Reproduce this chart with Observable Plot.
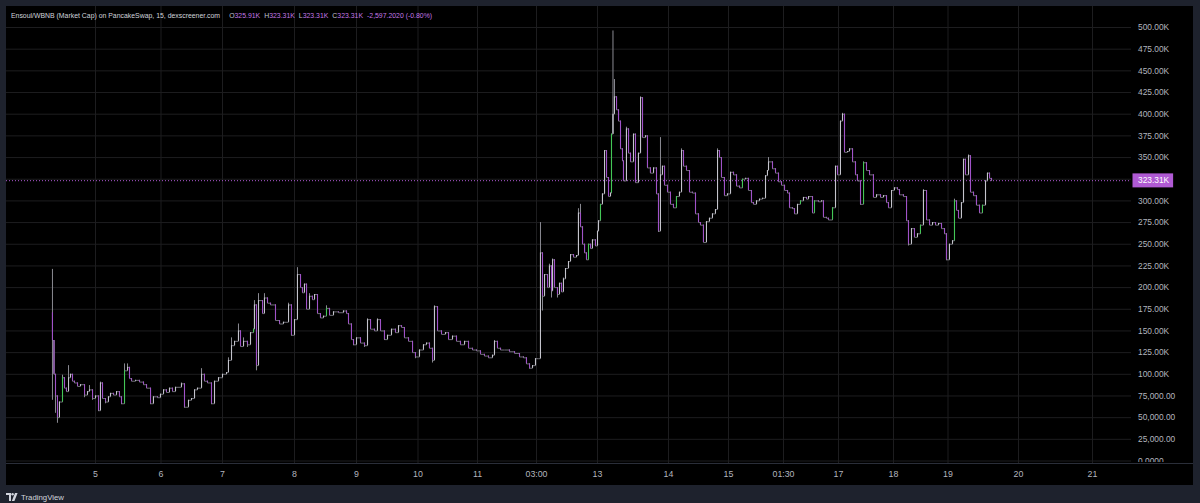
<!DOCTYPE html>
<html><head><meta charset="utf-8">
<script src="https://cdn.jsdelivr.net/npm/d3@7"></script>
<script src="https://cdn.jsdelivr.net/npm/@observablehq/plot@0.6"></script>
<style>
html,body{margin:0;padding:0;background:#1e222d;width:1200px;height:503px;overflow:hidden;font-family:"Liberation Sans",Arial,sans-serif;}
#panel{position:absolute;left:6px;top:6px;width:1187px;height:479px;background:#000;}
#chart{position:absolute;left:0;top:0;}
#sep{position:absolute;left:0;top:457px;width:1187px;height:1px;background:#2a2e39;}
#title{position:absolute;left:5px;top:5px;font-size:6.9px;color:#d1d4dc;white-space:pre;line-height:9px;}
#title .k{color:#c0c3cc;margin-left:4px;}
#title .v{color:#c478e6;}
#title .first{margin-left:9px;}
#brand{position:absolute;left:6px;top:492px;height:10px;display:flex;align-items:center;color:#d1d4dc;font-size:7.8px;}
#brand svg{margin-right:3px;}
</style></head><body>
<div id="panel"><div id="chart"></div><div id="sep"></div>
<div id="title">Ensoul/WBNB (Market Cap) on PancakeSwap, 15, dexscreener.com<span class="k first">O</span><span class="v">325.91K</span><span class="k">H</span><span class="v">323.31K</span><span class="k">L</span><span class="v">323.31K</span><span class="k">C</span><span class="v">323.31K</span><span class="v" style="margin-left:4px">-2,597.2020 (-0.80%)</span></div>
</div>
<div id="brand"><svg width="12" height="8" viewBox="0 0 12 8"><path d="M0 0H5V8H3V2H0Z" fill="#d1d4dc"/><circle cx="6.6" cy="1.3" r="1.2" fill="#d1d4dc"/><path d="M9 0H11.6L8.4 8H5.8Z" fill="#d1d4dc"/></svg>TradingView</div>
<script>
// ---- data (days of month, values in thousands of USD) ----
const firstOpen = 171;
const times = [4.306,4.331,4.355,4.387,4.419,4.468,4.5,4.532,4.565,4.597,4.629,4.661,4.71,4.758,4.823,4.871,4.903,4.952,
5.0,5.046,5.076,5.107,5.153,5.198,5.229,5.275,5.321,5.366,5.397,5.443,5.489,5.519,5.55,5.611,5.672,5.733,5.779,5.84,5.885,5.947,5.992,
6.041,6.089,6.138,6.187,6.236,6.333,6.382,6.447,6.496,6.545,6.593,6.659,6.707,6.756,6.821,6.87,6.935,
7.0,7.056,7.083,7.125,7.167,7.222,7.25,7.292,7.347,7.389,7.431,7.444,7.472,7.5,7.556,7.583,7.625,7.667,7.736,7.792,7.847,7.917,7.958,
8.0,8.048,8.097,8.129,8.161,8.194,8.242,8.29,8.323,8.371,8.419,8.468,8.516,8.565,8.629,8.71,8.79,8.839,8.871,8.919,8.952,
9.0,9.065,9.13,9.179,9.228,9.293,9.341,9.39,9.455,9.504,9.569,9.634,9.683,9.732,9.78,9.846,9.911,9.959,
10.025,10.092,10.143,10.193,10.244,10.277,10.328,10.395,10.462,10.513,10.58,10.647,10.714,10.782,10.849,10.916,10.983,
11.057,11.133,11.21,11.286,11.324,11.381,11.439,11.515,11.61,11.706,11.801,11.877,11.934,11.992,12.049,12.106,
12.154,12.182,12.211,12.24,12.283,12.311,12.34,12.355,12.383,12.426,12.455,12.484,12.512,12.541,12.584,12.613,12.656,12.699,12.727,12.756,12.785,12.814,12.842,12.871,12.9,12.928,12.971,
13.0,13.014,13.042,13.07,13.099,13.127,13.155,13.183,13.197,13.218,13.239,13.268,13.296,13.324,13.352,13.366,13.408,13.437,13.465,13.507,13.535,13.577,13.606,13.634,13.676,13.704,13.746,13.789,13.831,13.859,13.887,13.915,13.944,13.986,
14.033,14.083,14.133,14.183,14.217,14.25,14.3,14.35,14.4,14.45,14.5,14.533,14.583,14.633,14.683,14.733,14.783,14.817,14.85,14.883,14.933,14.983,
15.039,15.097,15.155,15.213,15.27,15.328,15.386,15.444,15.483,15.541,15.599,15.657,15.715,15.753,15.773,15.85,15.908,15.966,16.024,
16.08,16.131,16.165,16.216,16.25,16.301,16.352,16.403,16.455,16.489,16.557,16.591,16.659,16.71,16.744,16.795,16.829,16.898,16.949,16.983,
17.036,17.073,17.109,17.164,17.2,17.255,17.309,17.345,17.4,17.455,17.509,17.564,17.636,17.691,17.764,17.818,17.873,17.909,17.964,
18.018,18.073,18.11,18.183,18.239,18.275,18.33,18.385,18.44,18.495,18.55,18.606,18.661,18.716,18.771,18.826,18.881,18.936,18.972,
19.021,19.064,19.092,19.121,19.149,19.191,19.22,19.248,19.291,19.319,19.362,19.404,19.447,19.489,19.532,19.56,19.589,19.617];
const closes = [139,100,75,50,68,96,84,80,96,100,92,90,86,88,76,80,82,72,
75,58,90,72,68,74,78,76,80,74,66,104,108,95,92,93,91,88,84,66,74,73,77,
82,79,84,80,85,89,62,70,72,82,84,100,92,90,66,92,96,
100,102,116,133,138,150,132,138,134,148,152,180,110,185,170,188,182,180,162,158,160,180,145,
163,215,200,194,204,175,190,186,192,170,165,167,176,168,172,171,173,170,158,140,134,
142,136,133,163,152,150,163,150,140,145,152,148,156,154,142,138,125,120,
128,134,136,130,116,178,150,146,148,140,144,138,134,138,130,128,127,
123,121,119,122,138,130,128,128,126,124,120,119,112,107,110,118,
118,240,190,215,200,225,196,232,200,192,205,195,210,222,230,238,235,237,286,270,250,240,232,250,245,255,248,
265,277,296,308,358,327,305,309,377,400,420,405,392,360,346,323,383,355,345,377,321,355,419,373,375,338,332,338,308,265,330,340,318,310,
296,292,305,310,358,340,335,310,309,285,275,272,252,276,280,285,290,358,350,327,306,308,
333,330,317,315,325,326,312,298,296,300,302,303,329,335,345,337,332,322,318,
312,309,292,291,285,296,300,304,302,305,286,300,299,300,281,280,278,292,340,330,
392,400,356,357,360,345,330,323,296,344,335,330,304,307,304,306,298,292,312,
315,313,307,305,277,250,268,258,262,272,312,278,272,275,272,274,268,262,232,
250,254,300,289,280,298,348,330,352,310,306,295,286,295,323,332,325.91,323.31];
const highWicks = [[4.306,221],[4.468,99],[4.565,110],[4.903,87],[5.076,91],[5.443,112],[5.489,112],[6.333,90],[6.659,106.5],
[7.083,119],[7.125,142],[7.222,158],[7.292,142],[7.444,185],[7.5,193],[7.583,193],[7.917,182],[8.048,223],[8.097,206],[8.242,193],
[8.516,179],[9.179,164],[9.341,164],[10.277,179],[11.324,139],[12.182,275],[12.311,227],[12.355,233],[12.512,211],[12.727,291],
[12.756,296],[13.218,496],[13.239,440],[13.408,385],[13.606,420],[13.887,373],[14.217,360],[14.817,360],[15.773,350],[17.073,401],
[17.455,345],[18.55,313],[19.092,302],[19.291,353]];
const lowWicks = [[4.306,70],[4.355,55],[4.387,43.5],[4.823,73],[4.952,70],[5.046,57],[5.153,66],[5.397,65],[5.84,65],[6.382,61],
[6.821,65],[7.347,131],[7.472,104],[7.958,144],[8.952,133],[9.13,131],[9.455,139],[9.959,118],[10.244,113],[11.992,106],[12.211,173],
[12.34,188],[12.426,188],[13.859,263.6],[14.583,252],[17.4,295],[18.275,248],[18.972,231]];
const greenTimes = [4.468,5.443,7.431,8.516,12.871,13.042,13.197,14.133,15.27,16.352,16.591,16.898,17.455,18.495,19.092,19.489];
const lastPrice = 323.31;
const xTickDays = [5,6,7,8,9,10,11,12.125,13,14,15,16.0625,17,18,19,20,21];
const xTickLabels = ["5","6","7","8","9","10","11","03:00","13","14","15","01:30","17","18","19","20","21"];
const yTickValues = d3.range(0, 501, 25);

// ---- build candles ----
const hiMap = new Map(highWicks), loMap = new Map(lowWicks);
const greenSet = new Set(greenTimes);
const candles = times.map((t, i) => {
  const open = i === 0 ? firstOpen : closes[i - 1];
  const close = closes[i];
  return {t, open, close,
    high: Math.max(open, close, hiMap.get(t) ?? -Infinity),
    low: Math.min(open, close, loMap.get(t) ?? Infinity)};
});
const DOWN = "#a052c8", UP = "#c4c4cc", GREEN = "#43c756", WICK = "#8a8a92", STEP = "#6e6e76", GRID = "#1d1d1f";
const LABEL_BG = "#b05ad4";
const tickLabelMap = new Map(xTickDays.map((d, i) => [d, xTickLabels[i]]));
const fmtY = v => v === 0 ? "0.0000" : v >= 100 ? v.toFixed(2) + "K" : d3.format(",.2f")(v * 1000);

const chart = Plot.plot({
  width: 1187, height: 479,
  marginLeft: 0, marginRight: 62, marginTop: 0, marginBottom: 22,
  style: {background: "transparent", color: "#b2b5be", fontFamily: "'Liberation Sans', Arial, sans-serif", fontSize: "8.4px", overflow: "visible"},
  x: {type: "linear",
      domain: [3.565, 5, 6, 7, 8, 9, 10, 11, 12.125, 13, 14, 15, 16.0625, 17, 18, 19, 20, 21, 21.527],
      range:  [0, 89, 154.5, 216, 288, 350, 411.5, 471, 530, 591, 662, 722, 777, 832, 887, 941.5, 1012, 1086, 1125]},
  y: {domain: [0, 500], range: [454.5, 21]},
  color: {type: "identity"},
  marks: [
    Plot.ruleY(yTickValues, {stroke: GRID}),
    Plot.ruleX(xTickDays, {stroke: GRID}),
    Plot.ruleY([lastPrice], {stroke: LABEL_BG, strokeDasharray: "1,2"}),
    Plot.line(candles, {x: "t", y: "close", curve: "step-after", stroke: STEP, strokeWidth: 1}),
    Plot.ruleX(candles, {x: "t", y1: "low", y2: "high", stroke: WICK, strokeWidth: 1}),
    Plot.ruleX(candles, {x: "t", y1: "open", y2: "close", strokeWidth: 1.1,
      stroke: d => d.close < d.open ? DOWN : (greenSet.has(d.t) ? GREEN : UP)}),
    Plot.axisY(yTickValues, {anchor: "right", label: null, tickSize: 0, tickPadding: 6.5, tickFormat: fmtY, fill: "#b2b5be"}),
    Plot.axisX(xTickDays, {anchor: "bottom", label: null, tickSize: 0, tickPadding: 7, tickFormat: d => tickLabelMap.get(d), fill: "#b2b5be", fontSize: "8.8px"}),
    Plot.text([lastPrice], {y: d => d, frameAnchor: "right", dx: 6.5, textAnchor: "start",
      text: d => d.toFixed(2) + "K", fill: "#ffffff"})
  ]
});
document.getElementById("chart").appendChild(chart);

// clip the bottom y label at the time-axis separator
const svg = d3.select(chart);
const defs = svg.append("defs");
defs.append("clipPath").attr("id", "paneclip").attr("clipPathUnits", "userSpaceOnUse")
  .append("rect").attr("x", -2000).attr("y", -100).attr("width", 5000).attr("height", 555.5);
svg.selectAll('g[aria-label="y-axis tick label"]').attr("clip-path", "url(#paneclip)");

// price label background, placed in the same group just before the label text
const priceText = svg.selectAll("text").filter(function () {
  return this.textContent === lastPrice.toFixed(2) + "K" && !this.closest('g[aria-label="y-axis tick label"]');
}).node();
if (priceText) {
  const bb = priceText.getBBox();
  const rect = document.createElementNS("http://www.w3.org/2000/svg", "rect");
  rect.setAttribute("x", bb.x - 5.5);
  rect.setAttribute("y", bb.y + bb.height / 2 - 7);
  rect.setAttribute("width", bb.width + 9);
  rect.setAttribute("height", 14);
  rect.setAttribute("fill", LABEL_BG);
  const tr = priceText.getAttribute("transform");
  if (tr) rect.setAttribute("transform", tr);
  priceText.parentNode.insertBefore(rect, priceText);
}
</script>
</body></html>
